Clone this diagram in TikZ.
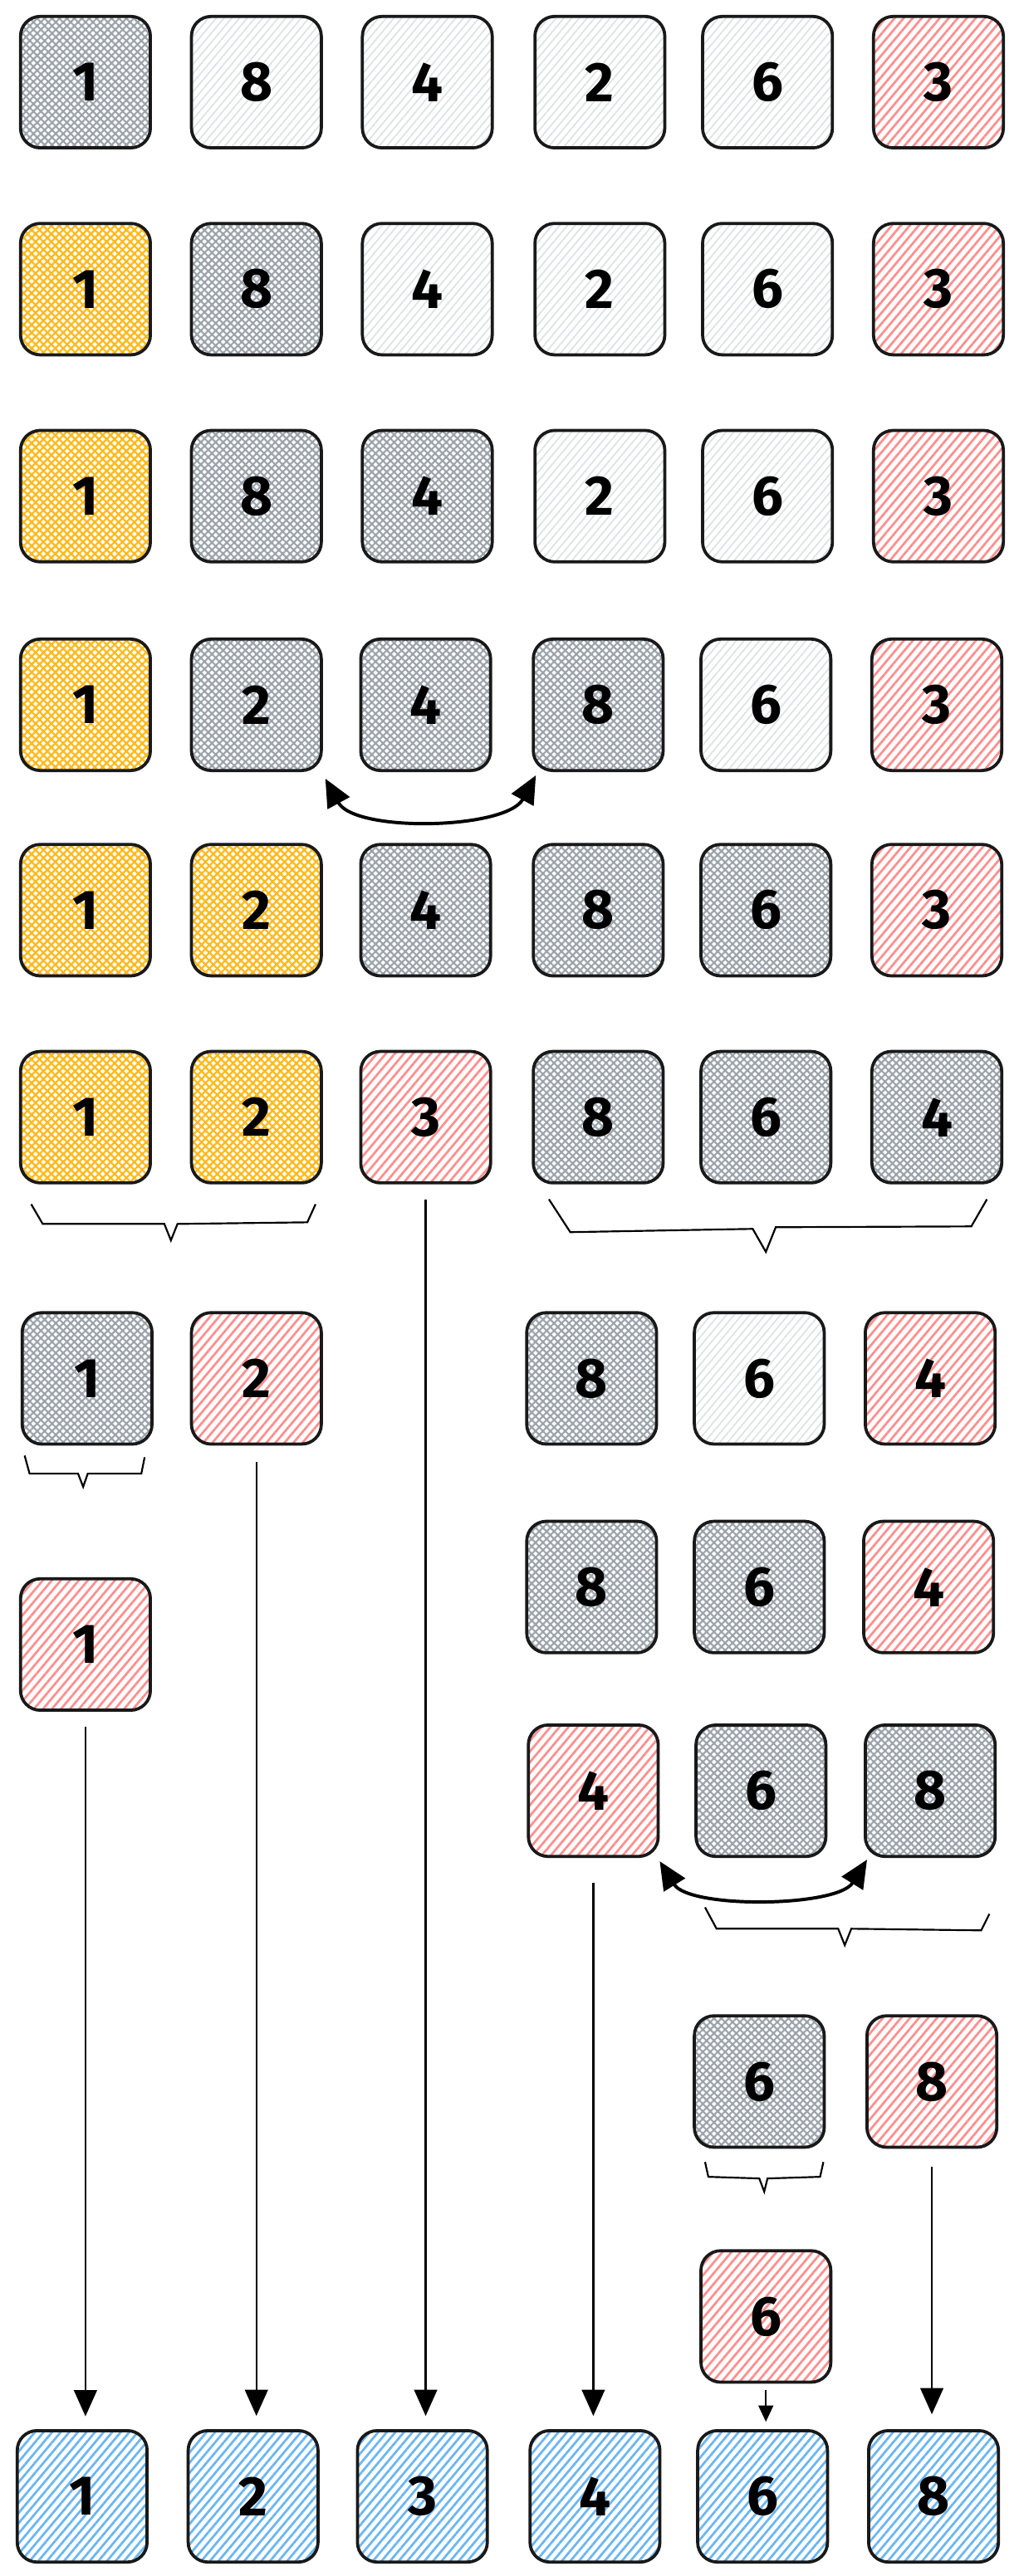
\documentclass[tikz,border=0pt]{standalone}
\usepackage{fontspec}
\setmainfont{Fira Sans}
\usetikzlibrary{patterns.meta,arrows.meta}
\definecolor{gxc}{HTML}{9CA3AB}
\definecolor{ltc}{HTML}{DEE2E6}
\definecolor{rdc}{HTML}{FF8F8F}
\definecolor{ylc}{HTML}{FFBA1F}
\definecolor{blc}{HTML}{6CB6F2}
\tikzset{
  cell/.style={draw=black!90, line width=0.95pt, rounded corners=6pt,
    minimum width=39.5pt, minimum height=40pt, inner sep=0pt,
    font=\fontsize{17}{20}\selectfont\bfseries},
  cgray/.style={cell, pattern={Hatch[angle=45,distance=1.6pt,line width=0.55pt]}, pattern color=gxc},
  clight/.style={cell, pattern={Lines[angle=50,distance=1.8pt,line width=0.45pt]}, pattern color=ltc},
  cred/.style={cell, pattern={Lines[angle=50,distance=2.1pt,line width=0.7pt]}, pattern color=rdc},
  cyel/.style={cell, pattern={Hatch[angle=45,distance=1.7pt,line width=0.6pt]}, pattern color=ylc},
  cblue/.style={cell, pattern={Lines[angle=50,distance=2pt,line width=0.7pt]}, pattern color=blc},
  arr/.style={line width=0.6pt, -{Triangle[length=8pt,width=7pt]}},
  arrs/.style={line width=0.6pt, -{Triangle[length=5pt,width=4.5pt]}},
  swaparr/.style={line width=1pt, {Triangle[length=8.5pt,width=7.5pt]}-{Triangle[length=8.5pt,width=7.5pt]}},
  bracel/.style={line width=0.55pt, line join=miter}
}
\begin{document}
\begin{tikzpicture}[x=0.5pt,y=-0.5pt]
\useasboundingbox (0,0) rectangle (620,1568);
% row 1
\node[cgray]  (r1a) at (52,50) {1};
\node[clight] (r1b) at (156,50) {8};
\node[clight] (r1c) at (260,50) {4};
\node[clight] (r1d) at (365,50) {2};
\node[clight] (r1e) at (467,50) {6};
\node[cred]   (r1f) at (571,50) {3};
% row 2
\node[cyel]   (r2a) at (52,176) {1};
\node[cgray]  (r2b) at (156,176) {8};
\node[clight] (r2c) at (260,176) {4};
\node[clight] (r2d) at (365,176) {2};
\node[clight] (r2e) at (467,176) {6};
\node[cred]   (r2f) at (571,176) {3};
% row 3
\node[cyel]   (r3a) at (52,302) {1};
\node[cgray]  (r3b) at (156,302) {8};
\node[cgray]  (r3c) at (260,302) {4};
\node[clight] (r3d) at (365,302) {2};
\node[clight] (r3e) at (467,302) {6};
\node[cred]   (r3f) at (571,302) {3};
% row 4
\node[cyel]   (r4a) at (52,429) {1};
\node[cgray]  (r4b) at (156,429) {2};
\node[cgray]  (r4c) at (259,429) {4};
\node[cgray]  (r4d) at (364,429) {8};
\node[clight] (r4e) at (466,429) {6};
\node[cred]   (r4f) at (570,429) {3};
\draw[swaparr] ([shift={(1.5,4)}]r4b.south east) .. controls +(18,33) and +(-18,33) .. ([shift={(2.5,2)}]r4d.south west);
% row 5
\node[cyel]   (r5a) at (52,554) {1};
\node[cyel]   (r5b) at (156,554) {2};
\node[cgray]  (r5c) at (259,554) {4};
\node[cgray]  (r5d) at (364,554) {8};
\node[cgray]  (r5e) at (466,554) {6};
\node[cred]   (r5f) at (570,554) {3};
% row 6
\node[cyel]   (r6a) at (52,680) {1};
\node[cyel]   (r6b) at (156,680) {2};
\node[cred]   (r6c) at (259,680) {3};
\node[cgray]  (r6d) at (364,680) {8};
\node[cgray]  (r6e) at (466,680) {6};
\node[cgray]  (r6f) at (570,680) {4};
\draw[bracel] (19,733) -- (26,745) -- (100,745) -- (104,755) -- (108,745) -- (187,744) -- (192,733);
\draw[bracel] (334,730) -- (347,750) -- (458,748) -- (466,762) -- (472,747) -- (591,746.5) -- (600.5,730);
% row 7
\node[cgray]  (r7a) at (53,839) {1};
\node[cred]   (r7b) at (156,839) {2};
\node[cgray]  (r7c) at (360,839) {8};
\node[clight] (r7d) at (462,839) {6};
\node[cred]   (r7e) at (566,839) {4};
\draw[bracel] (15,886) -- (18,897) -- (47.5,897) -- (50.6,905) -- (53.4,897) -- (86,897) -- (88,887);
% row 8
\node[cred]   (l1)  at (52,1001) {1};
\node[cgray]  (r8a) at (360,966) {8};
\node[cgray]  (r8b) at (462,966) {6};
\node[cred]   (r8c) at (565,966) {4};
% row 9
\node[cred]   (r9a) at (361,1090) {4};
\node[cgray]  (r9b) at (463,1090) {6};
\node[cgray]  (r9c) at (566,1090) {8};
\draw[swaparr] ([shift={(0,2)}]r9a.south east) .. controls +(18,29) and +(-18,29) .. ([shift={(2,1)}]r9c.south west);
\draw[bracel] (429,1161) -- (436,1174) -- (510,1174) -- (514,1184) -- (518,1174) -- (597,1175) -- (602,1165);
% row 10
\node[cgray]  (r10a) at (462,1267) {6};
\node[cred]   (r10b) at (567,1267) {8};
\draw[bracel] (429,1316) -- (431,1325) -- (462,1326) -- (465,1334) -- (467,1326) -- (499,1325) -- (501,1316);
% row 11
\node[cred]   (r11) at (466,1410) {6};
% final row
\node[cblue]  (f1) at (50,1519.5) {1};
\node[cblue]  (f2) at (154,1519.5) {2};
\node[cblue]  (f3) at (257,1519.5) {3};
\node[cblue]  (f4) at (362,1519.5) {4};
\node[cblue]  (f5) at (464,1519.5) {6};
\node[cblue]  (f6) at (568,1519.5) {8};
% arrows to final row
\draw[arr] ([yshift=-4.5pt]l1.south) -- ([yshift=4pt]l1.south |- f1.north);
\draw[arr] ([yshift=-5pt]r7b.south) -- ([yshift=4pt]r7b.south |- f2.north);
\draw[arr] ([yshift=-4.5pt]r6c.south) -- ([yshift=4pt]r6c.south |- f3.north);
\draw[arr] ([yshift=-7.5pt]r9a.south) -- ([yshift=4pt]r9a.south |- f4.north);
\draw[arrs] ([yshift=-2pt]r11.south) -- ([yshift=2.2pt]r11.south |- f5.north);
\draw[arr] ([yshift=-5.5pt]r10b.south) -- ([yshift=4.5pt]r10b.south |- f6.north);
\end{tikzpicture}
\end{document}
